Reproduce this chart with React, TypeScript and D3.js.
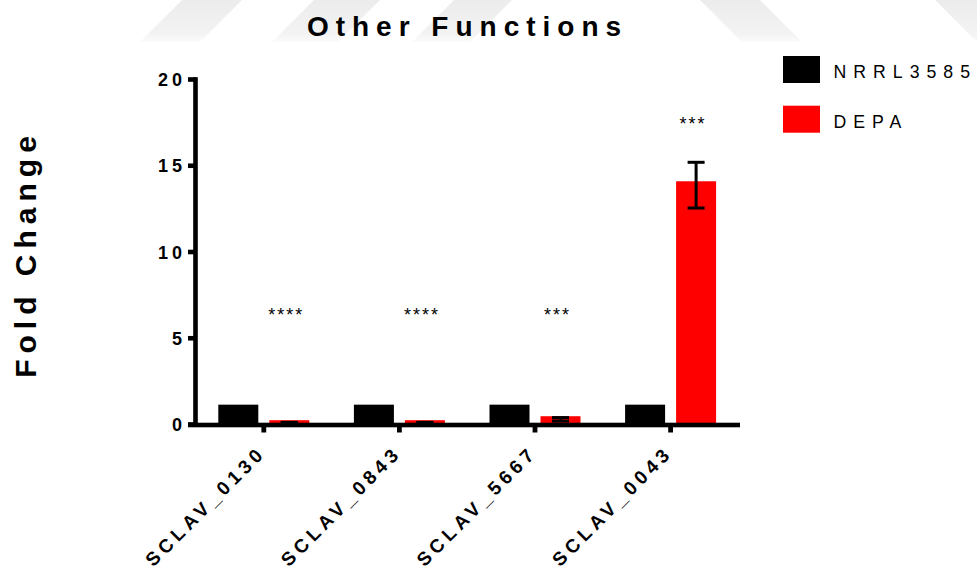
import React from "react";
import * as d3 from "d3";

// ---- data ----
const categories = ["SCLAV_0130", "SCLAV_0843", "SCLAV_5667", "SCLAV_0043"];
const seriesNames = ["NRRL3585", "DEPA"];
const seriesColors = ["#000000", "#ff0000"];
const nrrlValues = [1.15, 1.15, 1.15, 1.15];
const depaValues = [0.25, 0.25, 0.48, 14.1];
const depaErrLow = [0.12, 0.12, 0.2, 12.55];
const depaErrHigh = [0.12, 0.12, 0.4, 15.2];
const significance = ["****", "****", "***", "***"];
const significanceLevel = [6.0, 6.0, 6.0, 17.1];
const yTicks = [0, 5, 10, 15, 20];

const W = 977;
const H = 571;
const FONT = "Arial, 'Liberation Sans', Helvetica, sans-serif";

// faint slanted background bands across the top edge
const bands: [number, number][][] = [
  [[140, 42], [200, 42], [242, 0], [182, 0]],
  [[272, 42], [338, 42], [380, 0], [314, 0]],
  [[412, 42], [470, 42], [512, 0], [454, 0]],
  [[700, 0], [760, 0], [802, 42], [742, 42]],
  [[935, 0], [977, 0], [977, 42], [977, 42]],
];

export default function App() {
  const y = d3.scaleLinear().domain([0, 20]).range([424.5, 79.5]);
  const x0 = d3.scaleBand<string>().domain(categories).range([196, 738.4]);
  const x1 = d3
    .scaleBand<string>()
    .domain(seriesNames)
    .range([-45.5, 45.5])
    .paddingInner(0.2157);

  const values = [nrrlValues, depaValues];
  const axisW = 4.6;
  const center = (c: string) => (x0(c) as number) + x0.bandwidth() / 2;
  const barX = (c: string, s: string) => center(c) + (x1(s) as number);
  const bw = x1.bandwidth();
  const redCenter = (c: string) => barX(c, "DEPA") + bw / 2;

  const capW = 17;
  const capT = 3;

  const tickFs = 18;
  const tickLs = 4;
  const catFs = 19;
  const catLs = 4.5;

  return (
    <svg
      width={W}
      height={H}
      viewBox={`0 0 ${W} ${H}`}
      style={{ position: "absolute", left: 0, top: 0, background: "#fff" }}
    >
      <defs>
        <linearGradient id="bandFade" x1="0" y1="0" x2="0" y2="1">
          <stop offset="0%" stopColor="#ececec" />
          <stop offset="80%" stopColor="#f3f3f3" />
          <stop offset="100%" stopColor="#fbfbfb" />
        </linearGradient>
      </defs>
      <rect x={0} y={0} width={W} height={H} fill="#fff" />
      {bands.map((p, i) => (
        <polygon key={i} points={p.map((q) => q.join(",")).join(" ")} fill="url(#bandFade)" />
      ))}

      {/* title */}
      <text
        x={464 + 3.5}
        y={36}
        textAnchor="middle"
        fontFamily={FONT}
        fontWeight="bold"
        fontSize={28}
        letterSpacing={7}
        fill="#000"
      >
        Other Functions
      </text>

      {/* y axis title */}
      <text
        transform={`translate(36, ${251 + 3}) rotate(-90)`}
        textAnchor="middle"
        fontFamily={FONT}
        fontWeight="bold"
        fontSize={30}
        letterSpacing={6}
        fill="#000"
      >
        Fold Change
      </text>

      {/* bars */}
      {categories.map((c, i) =>
        seriesNames.map((s, j) => {
          const v = values[j][i];
          return (
            <rect
              key={c + s}
              x={barX(c, s)}
              y={y(v)}
              width={bw}
              height={y(0) - y(v)}
              fill={seriesColors[j]}
            />
          );
        })
      )}

      {/* error bars */}
      {categories.map((c, i) => {
        const cx = redCenter(c);
        const lo = depaErrLow[i];
        const hi = depaErrHigh[i];
        return (
          <g key={"err" + c} fill="#000">
            <rect x={cx - 1.5} y={y(hi)} width={3} height={y(lo) - y(hi)} />
            <rect x={cx - capW / 2} y={y(hi) - capT / 2} width={capW} height={capT} />
            <rect x={cx - capW / 2} y={y(lo) - capT / 2} width={capW} height={capT} />
          </g>
        );
      })}

      {/* significance marks */}
      {categories.map((c, i) => (
        <text
          key={"sig" + c}
          x={redCenter(c) - 3}
          y={y(significanceLevel[i])}
          textAnchor="middle"
          fontFamily={FONT}
          fontSize={18}
          letterSpacing={2}
          fill="#000"
        >
          {significance[i]}
        </text>
      ))}

      {/* y axis */}
      <rect
        x={195.5 - axisW / 2}
        y={y(20) - axisW / 2}
        width={axisW}
        height={y(0) - y(20) + axisW}
        fill="#000"
      />
      {yTicks.map((t) => (
        <g key={"yt" + t}>
          <rect x={188} y={y(t) - axisW / 2} width={8} height={axisW} fill="#000" />
          <text
            x={182 + tickLs}
            y={y(t) + 6.5}
            textAnchor="end"
            fontFamily={FONT}
            fontWeight="bold"
            fontSize={tickFs}
            letterSpacing={tickLs}
            fill="#000"
          >
            {t}
          </text>
        </g>
      ))}

      {/* x axis */}
      <rect x={188} y={y(0) + 0.5 - axisW / 2} width={740 - 188} height={axisW} fill="#000" />
      {categories.map((c) => (
        <g key={"xt" + c}>
          <rect x={center(c) - 2.4} y={y(0) + 2} width={4.8} height={6} fill="#000" />
          <text
            transform={`translate(${center(c)}, 457) rotate(-45)`}
            x={catLs}
            textAnchor="end"
            fontFamily={FONT}
            fontWeight="bold"
            fontSize={catFs}
            letterSpacing={catLs}
            fill="#000"
          >
            {c}
          </text>
        </g>
      ))}

      {/* legend */}
      {seriesNames.map((s, j) => (
        <g key={"lg" + s}>
          <rect x={783} y={56 + j * 49.7} width={37} height={27} fill={seriesColors[j]} />
          <text
            x={833.5}
            y={78 + j * 50.3}
            fontFamily={FONT}
            fontSize={17.7}
            letterSpacing={7}
            fill="#000"
          >
            {s}
          </text>
        </g>
      ))}
    </svg>
  );
}
